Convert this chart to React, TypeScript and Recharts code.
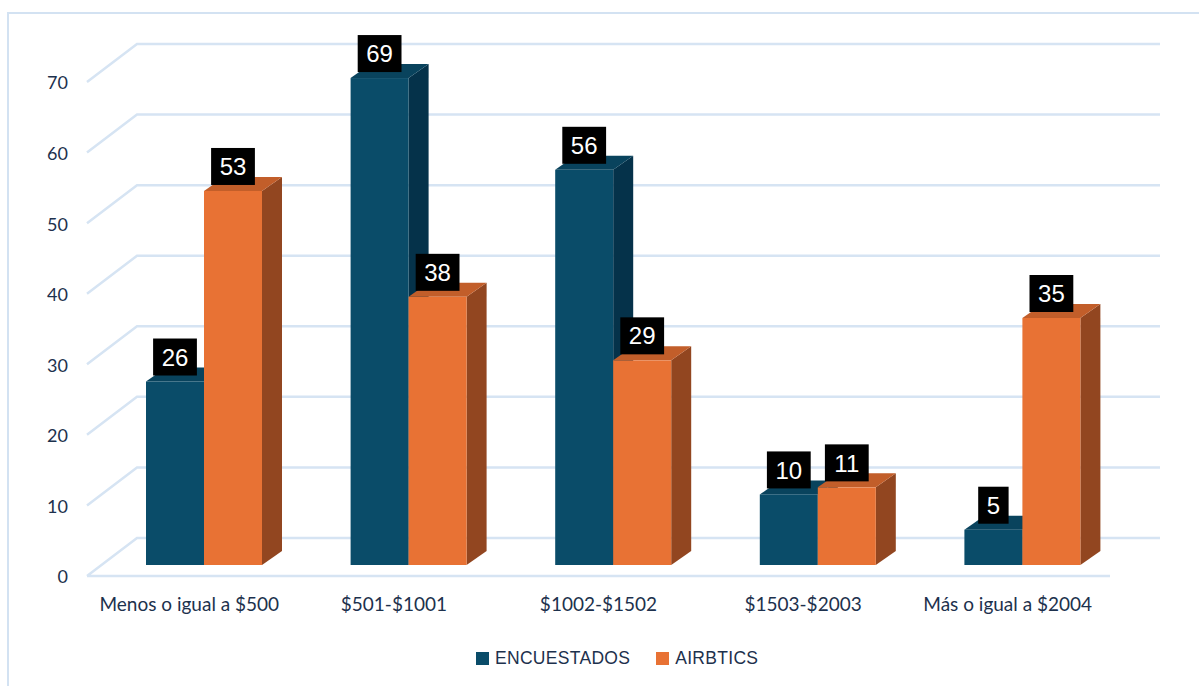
import React from 'react';
import { BarChart, Bar, XAxis, YAxis, CartesianGrid, LabelList, Legend } from 'recharts';

const categories = [
  'Menos o igual a $500',
  '$501-$1001',
  '$1002-$1502',
  '$1503-$2003',
  'Más o igual a $2004',
];
const encuestados = [26, 69, 56, 10, 5];
const airbtics = [53, 38, 29, 11, 35];
const yTicks = [0, 10, 20, 30, 40, 50, 60, 70];
const seriesNames = ['ENCUESTADOS', 'AIRBTICS'];

const data = categories.map((name, i) => ({
  name,
  encuestados: encuestados[i],
  airbtics: airbtics[i],
}));

// pseudo-3D geometry (pixels)
const BAR_DX = 20; // bar depth, horizontal
const BAR_DY = 14; // bar depth, vertical
const WALL_DX = 35; // back wall offset from the bar plane
const WALL_DY = 27;
const FRONT_DX = 15; // front floor edge offset from the bar plane
const FRONT_DY = 11;

const TEXT_COLOR = '#1D314D';
const GRID_COLOR = '#D6E4F3';

const makeBox = (front: string, top: string, side: string) => (props: any) => {
  const x = Number(props.x);
  const y = Number(props.y);
  const w = Number(props.width);
  const h = Number(props.height);
  if (!(h > 0)) return <g />;
  const sidePts = `${x + w},${y} ${x + w + BAR_DX},${y - BAR_DY} ${x + w + BAR_DX},${y + h - BAR_DY} ${x + w},${y + h}`;
  const topPts = `${x},${y} ${x + w},${y} ${x + w + BAR_DX},${y - BAR_DY} ${x + BAR_DX},${y - BAR_DY}`;
  return (
    <g>
      <polygon points={sidePts} fill={side} />
      <polygon points={topPts} fill={top} />
      <rect x={x} y={y} width={w} height={h} fill={front} />
    </g>
  );
};

const encShape = makeBox('#0A4C69', '#09435D', '#05324A');
const airShape = makeBox('#E87234', '#C25E2A', '#924620');

// each horizontal grid line runs from the front edge, up the side wall, across the back wall
const gridLine = (props: any) => {
  const { x1, x2, y1 } = props;
  const fx = x1 - FRONT_DX;
  const fy = y1 + FRONT_DY;
  const by = y1 - WALL_DY;
  let d = `M${fx},${fy}L${x1 + WALL_DX},${by}L${x2 + WALL_DX},${by}`;
  const isFloor = Math.abs(y1 - (Number(props.y) + Number(props.height))) < 1;
  if (isFloor) d += `M${fx},${fy}L${x2 - FRONT_DX},${fy}`;
  return <path key={props.key ?? `grid-${props.index}`} d={d} fill="none" stroke={GRID_COLOR} strokeWidth={2.5} />;
};

const YTick = (props: any) => {
  const { x, y, payload } = props;
  return (
    <text
      x={Number(x) - 34}
      y={Number(y) + FRONT_DY + 1}
      dy="0.36em"
      textAnchor="end"
      fill={TEXT_COLOR}
      fontSize={18}
      fontFamily="Lato, sans-serif"
    >
      {payload.value}
    </text>
  );
};

const XTick = (props: any) => {
  const { x, y, payload } = props;
  return (
    <text
      x={Number(x) - FRONT_DX}
      y={Number(y) + 46}
      textAnchor="middle"
      fill={TEXT_COLOR}
      fontSize={19}
      fontFamily="Lato, sans-serif"
    >
      {payload.value}
    </text>
  );
};

const ValueBox = (props: any) => {
  const { x, y, width, value } = props;
  const cx = Number(x) + Number(width) / 2;
  const text = String(value);
  const w = text.length * 13.4 + 17;
  const h = 37;
  const bottom = Number(y) - 6;
  return (
    <g>
      <rect x={cx - w / 2} y={bottom - h} width={w} height={h} fill="#000" />
      <text
        x={cx}
        y={bottom - h / 2}
        dy="0.36em"
        textAnchor="middle"
        fill="#fff"
        fontSize={24}
        fontFamily="'Liberation Sans', Arial, sans-serif"
      >
        {text}
      </text>
    </g>
  );
};

const LegendContent = (props: any) => {
  const payload = [...(props.payload || [])].sort(
    (a: any, b: any) => seriesNames.indexOf(a.value) - seriesNames.indexOf(b.value)
  );
  return (
    <div
      style={{
        display: 'flex',
        alignItems: 'center',
        gap: 26,
        fontFamily: "'Liberation Sans', Arial, sans-serif",
        fontSize: 17.5,
        letterSpacing: 0.3,
        lineHeight: '20px',
        color: TEXT_COLOR,
        whiteSpace: 'nowrap',
      }}
    >
      {payload.map((entry: any) => (
        <span key={entry.value} style={{ display: 'flex', alignItems: 'center' }}>
          <span style={{ display: 'inline-block', width: 13, height: 13, background: entry.color, marginRight: 6 }} />
          {entry.value}
        </span>
      ))}
    </div>
  );
};

export default function App() {
  return (
    <div style={{ position: 'absolute', left: 0, top: 0, width: 1199, height: 686, overflow: 'hidden', background: '#fff' }}>
      <div
        style={{
          position: 'absolute',
          left: 7,
          top: 12,
          width: 1260,
          height: 720,
          border: '2px solid #D3E2F2',
          boxSizing: 'border-box',
        }}
      />
      <div style={{ position: 'absolute', left: 0, top: 0 }}>
        <BarChart
          width={1199}
          height={686}
          data={data}
          margin={{ top: 71, right: 74, bottom: 61, left: 42 }}
          barGap={0}
        >
          <CartesianGrid vertical={false} horizontal={gridLine} />
          <XAxis
            dataKey="name"
            axisLine={false}
            tickLine={false}
            tickSize={0}
            tickMargin={0}
            height={60}
            interval={0}
            tick={<XTick />}
          />
          <YAxis
            domain={[0, 70]}
            ticks={yTicks}
            axisLine={false}
            tickLine={false}
            tickSize={0}
            tickMargin={0}
            width={60}
            interval={0}
            tick={<YTick />}
          />
          <Legend
            layout="horizontal"
            verticalAlign="middle"
            align="center"
            wrapperStyle={{ left: 476, top: 648, width: 400 }}
            content={<LegendContent />}
          />
          <Bar dataKey="encuestados" name="ENCUESTADOS" fill="#0A4C69" barSize={58} shape={encShape} isAnimationActive={false}>
            <LabelList dataKey="encuestados" content={<ValueBox />} />
          </Bar>
          <Bar dataKey="airbtics" name="AIRBTICS" fill="#E87234" barSize={58} shape={airShape} isAnimationActive={false}>
            <LabelList dataKey="airbtics" content={<ValueBox />} />
          </Bar>
        </BarChart>
      </div>
    </div>
  );
}
